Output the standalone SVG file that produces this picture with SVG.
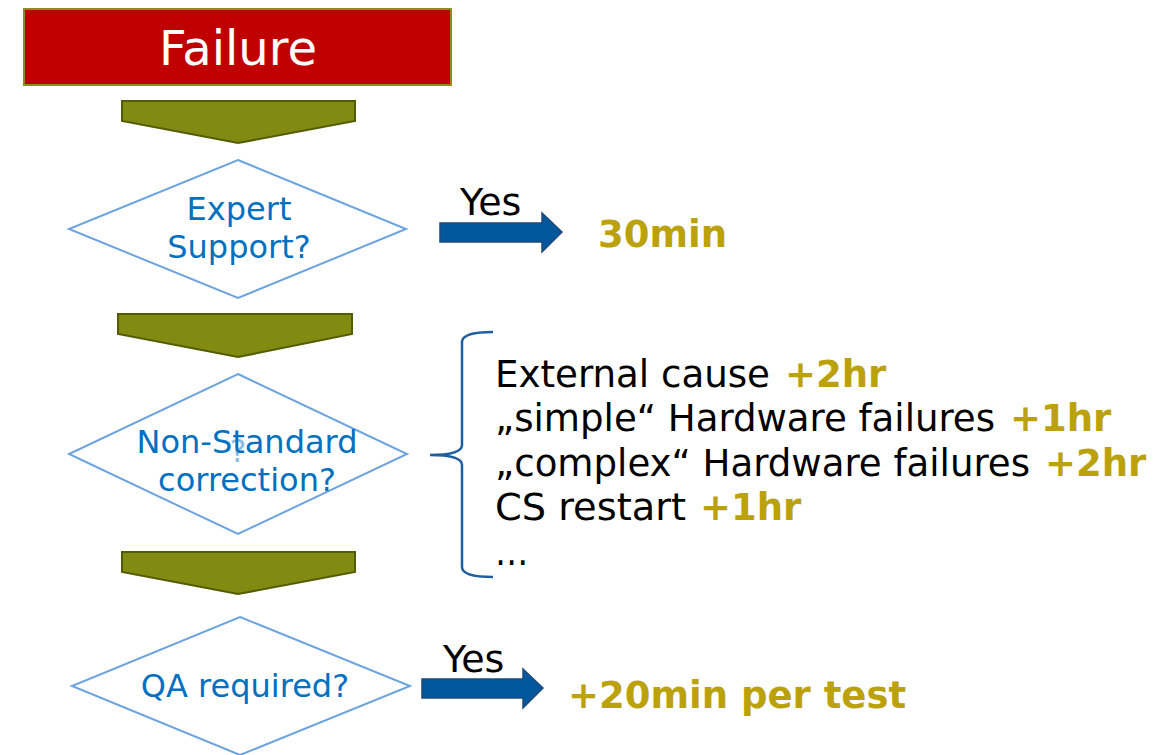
<svg xmlns="http://www.w3.org/2000/svg" width="1161" height="755" viewBox="0 0 1161 755">
<style>
.dia{fill:#fff;stroke:#6CA3E0;stroke-width:2}
.dt{font-family:"DejaVu Sans","Verdana",sans-serif;font-size:32px;fill:#0070C0;text-anchor:middle}
.down{fill:#818A11;stroke:#545C00;stroke-width:2}
.blue{fill:#00579B;stroke:#1F4A7A;stroke-width:1.5}
.yes{font-family:"DejaVu Sans",sans-serif;font-size:38px;fill:#000}
.gold{font-family:"DejaVu Sans",sans-serif;font-weight:bold;fill:#BBA20B;font-size:37px}
.lst{font-family:"DejaVu Sans Condensed","DejaVu Sans",sans-serif;font-stretch:condensed;font-size:37px;fill:#000}
</style>
<rect width="1161" height="755" fill="#fff"/>
<g id="failure">
<rect x="24" y="9" width="427" height="76" fill="#C00000" stroke="#8B8B22" stroke-width="2"/>
<text x="238" y="65" font-family="DejaVu Sans,sans-serif" font-size="48" fill="#fff" text-anchor="middle">Failure</text>
</g>
<g id="expert">
<polygon class="dia" points="238,160 406,229 238,298 69,229"/>
<text class="dt" x="239" y="220">Expert</text>
<text class="dt" x="239" y="258">Support?</text>
</g>
<g id="nonstandard">
<polygon class="dia" points="238,374 407,454 238,534 69,454"/>
<text class="dt" x="247" y="453">Non-Standard</text>
<text class="dt" x="247" y="491">correction?</text>
<text class="dt" x="238" y="462" opacity="0.45" font-size="24">?</text>
</g>
<g id="qa">
<polygon class="dia" points="240,617 410,686 240,755 72,686"/>
<text class="dt" x="245" y="697">QA required?</text>
</g>
<g id="result1">
<text class="gold" x="598" y="247">30min</text>
</g>
<g id="causes">
<text class="lst" x="495" y="387" textLength="275" lengthAdjust="spacingAndGlyphs">External cause</text>
<text class="gold" x="785" y="387">+2hr</text>
<text class="lst" x="495" y="431" textLength="500" lengthAdjust="spacingAndGlyphs">„simple“ Hardware failures</text>
<text class="gold" x="1010" y="431">+1hr</text>
<text class="lst" x="495" y="476" textLength="535" lengthAdjust="spacingAndGlyphs">„complex“ Hardware failures</text>
<text class="gold" x="1045" y="476">+2hr</text>
<text class="lst" x="495" y="520" textLength="191" lengthAdjust="spacingAndGlyphs">CS restart</text>
<text class="gold" x="700" y="520">+1hr</text>
<text class="lst" x="495" y="565">…</text>
</g>
<g id="result3">
<text class="gold" x="568" y="708">+20min per test</text>
</g>
<g id="connectors">
<polygon class="down" points="122,101 355,101 355,121 238,143 122,121"/>
<polygon class="down" points="118,314 352,314 352,334 238,357 118,334"/>
<polygon class="down" points="122,552 355,552 355,572 238,594 122,572"/>
<polygon class="blue" points="440,223 542,223 542,213 562,232 542,252 542,242 440,242"/>
<text class="yes" x="460" y="215">Yes</text>
<polygon class="blue" points="422,679 523,679 523,669 543,688 523,708 523,698 422,698"/>
<text class="yes" x="443" y="672">Yes</text>
<path d="M493,332 Q462,332 462,342 L462,445 Q462,455 430,455 Q462,455 462,465 L462,567 Q462,577 493,577" fill="none" stroke="#1F5F9F" stroke-width="2.5"/>
</g>
</svg>
